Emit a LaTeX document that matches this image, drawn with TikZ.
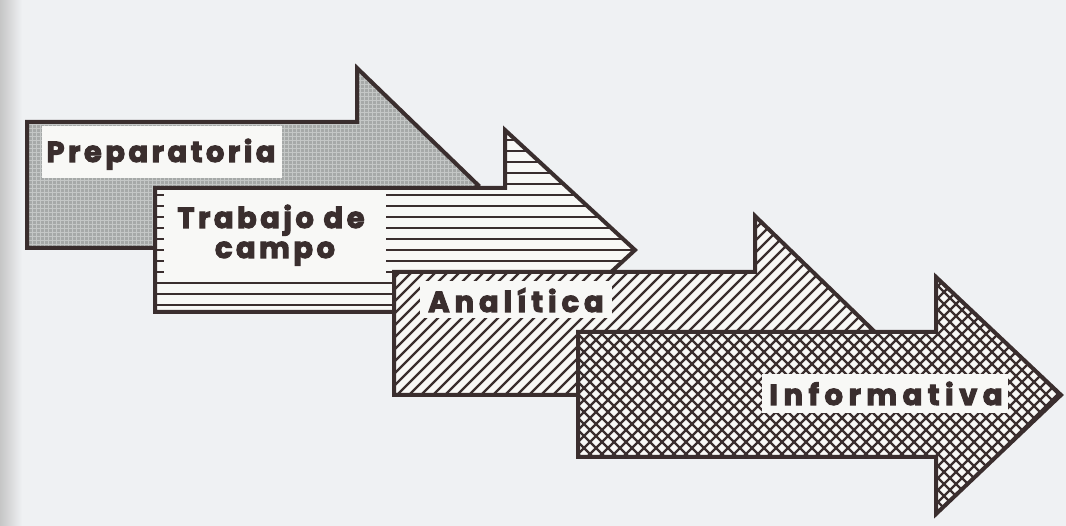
\documentclass[tikz,border=0pt]{standalone}
\usepackage{fontspec}
\setmainfont{Poppins}
\newfontfamily\phasefont{Poppins}[FakeBold=3.5]
\definecolor{ink}{HTML}{3A2E2E}
\definecolor{paper}{HTML}{EFF1F3}
\definecolor{boxw}{HTML}{F8F8F6}
\definecolor{gfill}{HTML}{A6A9A8}
\definecolor{gline}{HTML}{C4C7C6}
\tikzset{
  arrowline/.style={draw=ink, line width=4pt, line join=miter},
  labelbox/.style={fill=boxw, draw=none},
  phaselabel/.style={text=ink, inner sep=0pt, anchor=base},
  hatchline/.style={draw=ink, line width=2.2pt},
  crossline/.style={draw=ink, line width=2.2pt},
  gridline/.style={draw=gline, line width=0.7pt},
}
\newcommand{\phasetext}[2]{{\phasefont\bfseries\fontsize{29}{30}\selectfont\addfontfeature{LetterSpace=#1}#2}}
\begin{document}
\begin{tikzpicture}[x=1pt,y=-1pt]
\useasboundingbox (0,0) rectangle (1066,526);
\fill[paper] (0,0) rectangle (1066,526);
\shade[left color=gray!45, right color=paper] (0,0) rectangle (22,526);
% ---------- Arrow 1: Preparatoria (grey grid) ----------
\begin{scope}
  \clip (27,122) -- (357,122) -- (357,68) -- (478,185) -- (357,302) -- (357,248) -- (27,248) -- cycle;
  \fill[gfill] (20,60) rectangle (490,310);
  \foreach \v in {24,28,...,484} \draw[gridline] (\v,60) -- (\v,310);
  \foreach \h in {64,68,...,308} \draw[gridline] (20,\h) -- (490,\h);
\end{scope}
\draw[arrowline] (27,122) -- (357,122) -- (357,68) -- (478,185) -- (357,302) -- (357,248) -- (27,248) -- cycle;
\fill[labelbox] (42,126) rectangle (282,178);
\node[phaselabel] (prep) at (161,162) {\phasetext{12}{Preparatoria}};
% ---------- Arrow 2: Trabajo de campo (horizontal lines) ----------
\begin{scope}
  \clip (155,188) -- (505,188) -- (505,130) -- (635,250) -- (505,370) -- (505,312) -- (155,312) -- cycle;
  \fill[boxw] (150,125) rectangle (640,375);
  \foreach \h in {129,140,...,373} \draw[hatchline] (150,\h) -- (640,\h);
\end{scope}
\draw[arrowline] (155,188) -- (505,188) -- (505,130) -- (635,250) -- (505,370) -- (505,312) -- (155,312) -- cycle;
\fill[labelbox] (164,192) rectangle (386,280);
\node[phaselabel] (trab) at (271,228) {\phasetext{12}{Trabajo de}};
\node[phaselabel] (campo) at (275,258) {\phasetext{12}{campo}};
% ---------- Arrow 3: Analitica (diagonal lines) ----------
\begin{scope}
  \clip (394,272) -- (755,272) -- (755,216) -- (877,334) -- (755,452) -- (755,395) -- (394,395) -- cycle;
  \fill[boxw] (390,210) rectangle (885,460);
  \foreach \c in {600,612,...,1350} \draw[hatchline] (\c-200,200) -- (\c-470,470);
\end{scope}
\draw[arrowline] (394,272) -- (755,272) -- (755,216) -- (877,334) -- (755,452) -- (755,395) -- (394,395) -- cycle;
\fill[labelbox] (420,281) rectangle (612,318);
\node[phaselabel] (anal) at (516,312) {\phasetext{17}{Analítica}};
% ---------- Arrow 4: Informativa (cross hatch) ----------
\begin{scope}
  \clip (578,332) -- (936,332) -- (936,277) -- (1061,395) -- (936,514) -- (936,457) -- (578,457) -- cycle;
  \fill[boxw] (570,270) rectangle (1066,520);
  \foreach \c in {840,852,...,1600} \draw[crossline] (\c-260,260) -- (\c-530,530);
  \foreach \c in {40,52,...,820} \draw[crossline] (\c+260,260) -- (\c+530,530);
\end{scope}
\draw[arrowline] (578,332) -- (936,332) -- (936,277) -- (1061,395) -- (936,514) -- (936,457) -- (578,457) -- cycle;
\fill[labelbox] (762,374) rectangle (1008,413);
\node[phaselabel] (info) at (886,405) {\phasetext{19}{Informativa}};
\end{tikzpicture}
\end{document}
